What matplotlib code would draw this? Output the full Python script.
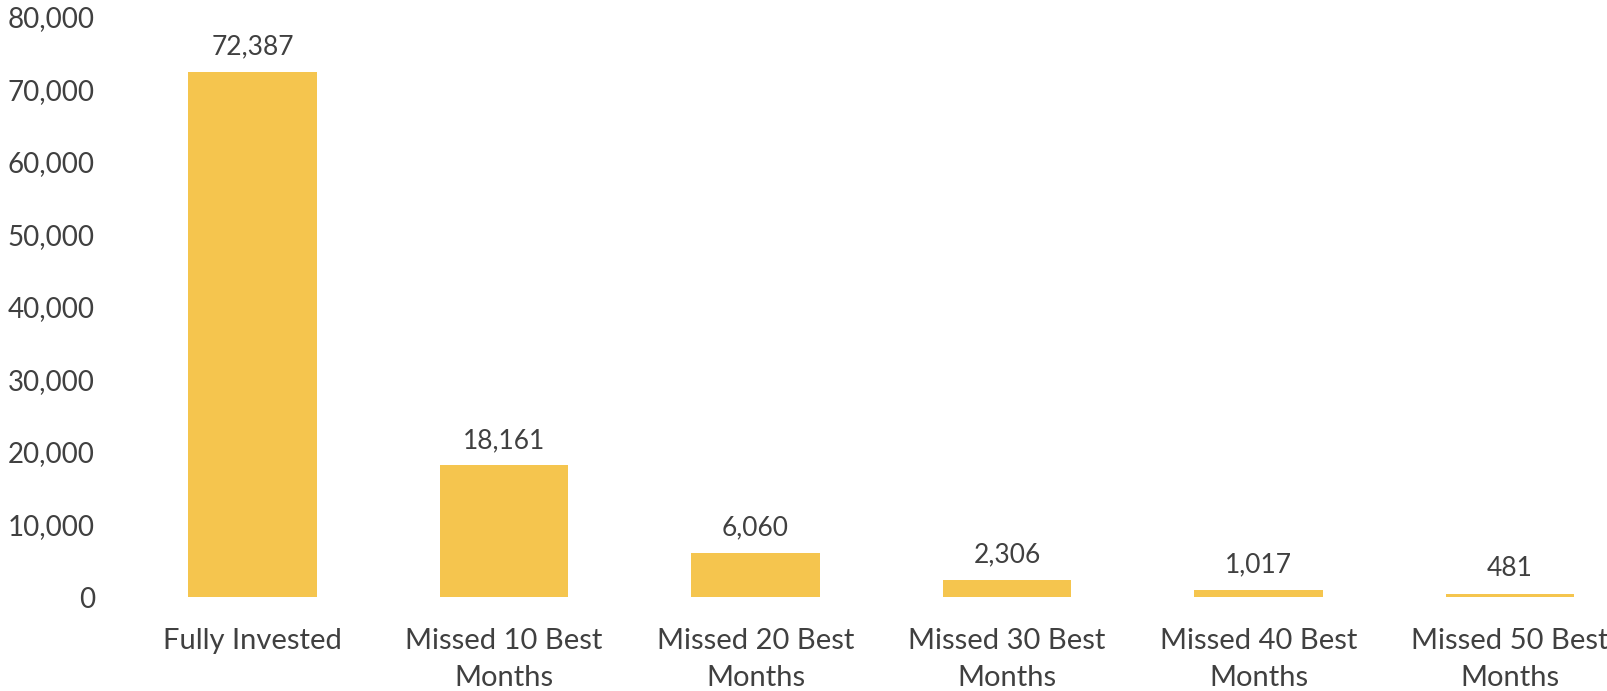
import matplotlib
matplotlib.use("Agg")
import matplotlib.pyplot as plt
from matplotlib.ticker import FuncFormatter

categories = ["Fully Invested", "Missed 10 Best\nMonths", "Missed 20 Best\nMonths",
              "Missed 30 Best\nMonths", "Missed 40 Best\nMonths", "Missed 50 Best\nMonths"]
values = [72387, 18161, 6060, 2306, 1017, 481]
yticks = [0, 10000, 20000, 30000, 40000, 50000, 60000, 70000, 80000]

plt.rcParams['font.family'] = ['Lato', 'DejaVu Sans']
text_color = "#404040"
bar_color = "#F5C54E"

W, H = 1608, 691
fig = plt.figure(figsize=(W / 100, H / 100), dpi=100)
left = 126.75 / W
bottom = (H - 597) / H
height = 580 / H
width = 5.88 * 251.5 / W
ax = fig.add_axes([left, bottom, width, height])

x = list(range(len(categories)))
ax.bar(x, values, width=0.51, color=bar_color, zorder=2)
for xi, v in zip(x, values):
    ax.annotate(f"{v:,}", (xi, v), xytext=(0, 9), textcoords="offset points",
                ha="center", va="bottom", fontsize=19, color=text_color)

ax.set_xlim(-0.5, 5.38)
ax.set_ylim(0, 80000)
ax.set_yticks(yticks)
ax.yaxis.set_major_formatter(FuncFormatter(lambda v, p: f"{int(v):,}"))
ax.set_xticks(x)
ax.set_xticklabels(categories, linespacing=1.53)
ax.tick_params(axis="y", length=0, pad=23, labelsize=20, labelcolor=text_color)
ax.tick_params(axis="x", length=0, pad=22, labelsize=21, labelcolor=text_color)
for s in ax.spines.values():
    s.set_visible(False)

fig.savefig("out.png", dpi=100)
